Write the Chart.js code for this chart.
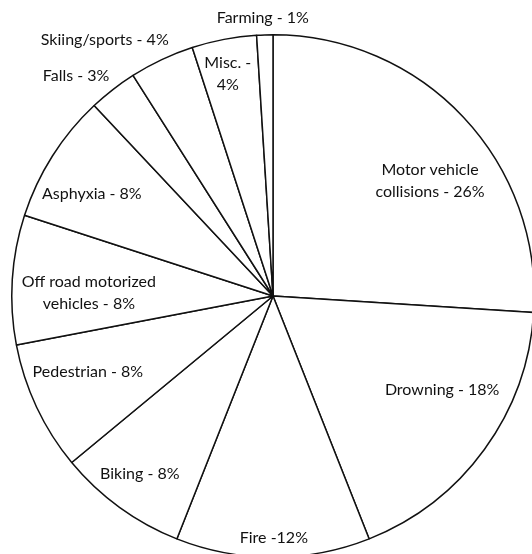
<!DOCTYPE html>
<html>
<head>
<meta charset="utf-8">
<script src="https://cdn.jsdelivr.net/npm/chart.js@4/dist/chart.umd.min.js"></script>
<style>
  html, body { margin: 0; padding: 0; background: #fff; overflow: hidden; width: 532px; height: 554px; }
  #wrap { position: absolute; left: 0; top: 0; width: 546px; height: 570px; }
</style>
</head>
<body>
<div id="wrap"><canvas id="pie"></canvas></div>
<script>
const causes = [
  ["Motor vehicle", "collisions - 26%"],
  ["Drowning - 18%"],
  ["Fire -12%"],
  ["Biking - 8%"],
  ["Pedestrian - 8%"],
  ["Off road motorized", "vehicles - 8%"],
  ["Asphyxia - 8%"],
  ["Falls - 3%"],
  ["Skiing/sports - 4%"],
  ["Misc. -", "4%"],
  ["Farming - 1%"]
];
const shares = [26, 18, 12, 8, 8, 8, 8, 3, 4, 4, 1];

// label placement: angle from 12 o'clock (deg, clockwise), distance as fraction of radius
const labelAngles = [53.8, 119.1, 179.8, 216.8, 247.7, 270.9, 299.4, 318.2, 326.7, 348.5, 357.9];
const labelRadii = [0.745, 0.741, 0.927, 0.851, 0.766, 0.705, 0.796, 1.131, 1.173, 0.868, 1.065];

const labelFont = "16px Lato";
const lineHeight = 22;

const sliceLabels = {
  id: "sliceLabels",
  afterDraw(chart) {
    const ctx = chart.ctx;
    const arcs = chart.getDatasetMeta(0).data;
    const cx = arcs[0].x, cy = arcs[0].y, r = arcs[0].outerRadius;
    ctx.save();
    ctx.font = labelFont;
    ctx.fillStyle = "#111111";
    ctx.textAlign = "center";
    ctx.textBaseline = "middle";
    causes.forEach((lines, i) => {
      const a = labelAngles[i] * Math.PI / 180;
      const x = cx + Math.sin(a) * r * labelRadii[i];
      const y = cy - Math.cos(a) * r * labelRadii[i];
      const top = y - (lines.length - 1) * lineHeight / 2;
      lines.forEach((t, j) => ctx.fillText(t, x, top + j * lineHeight));
    });
    ctx.restore();
  }
};

window.addEventListener("DOMContentLoaded", function() {
  new Chart(document.getElementById("pie").getContext("2d"), {
    type: "pie",
    data: {
      labels: causes.map(l => l.join(" ")),
      datasets: [{
        data: shares,
        backgroundColor: "#ffffff",
        borderColor: "#111111",
        borderWidth: 1.5
      }]
    },
    options: {
      animation: false,
      responsive: true,
      maintainAspectRatio: false,
      events: [],
      layout: { padding: { left: 11, right: 11, top: 34, bottom: 12 } },
      plugins: {
        legend: { display: false },
        tooltip: { enabled: false }
      }
    },
    plugins: [sliceLabels]
  });
});
</script>
</body>
</html>
